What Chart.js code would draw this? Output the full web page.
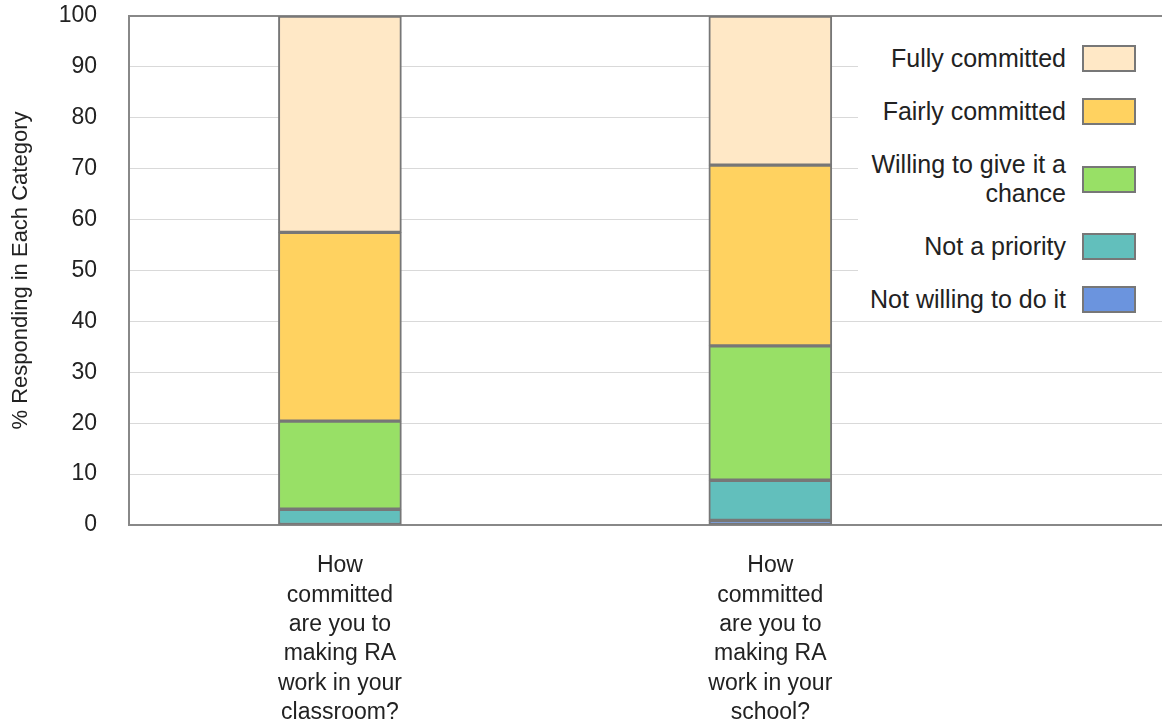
<!DOCTYPE html>
<html>
<head>
<meta charset="utf-8">
<script src="https://cdn.jsdelivr.net/npm/chart.js@4"></script>
<style>
  body { margin: 0; background: #fff; }
  #wrap { position: relative; width: 1162px; height: 727px; }
  #legend {
    position: absolute; left: 858px; top: 20px; width: 304px; height: 298px;
    background: #fff; font-family: "Liberation Sans", Arial, sans-serif;
    font-size: 25px; color: #222; padding-top: 24px; box-sizing: border-box;
  }
  .row { display: flex; justify-content: flex-end; align-items: center; margin-bottom: 24px; }
  .row span { text-align: right; line-height: 29px; }
  .row i { width: 50px; height: 23px; border: 2px solid #777; margin: 0 26px 0 16px; flex: none; }
</style>
</head>
<body>
<div id="wrap">
  <canvas id="rating_chart"></canvas>
  <div id="legend"></div>
</div>
<script>
// Data

const categories = [
    ['How', 'committed', 'are you to', 'making RA', 'work in your', 'classroom?'],
    ['How', 'committed', 'are you to', 'making RA', 'work in your', 'school?']
];
const series_names = ['Not willing to do it', 'Not a priority', 'Willing to give it a\nchance', 'Fairly committed', 'Fully committed'];
const not_willing = [0, 0.9];
const not_priority = [3.1, 7.9];
const willing = [17.3, 26.4];
const fairly = [37.1, 35.5];
const fully = [42.5, 29.3];
const y_ticks = [0, 10, 20, 30, 40, 50, 60, 70, 80, 90, 100];

const colors = ['#6b94de', '#62bfbc', '#98e066', '#ffd260', '#ffe8c6'];
const values = [not_willing, not_priority, willing, fairly, fully];

Chart.defaults.font.family = '"Liberation Sans", Arial, sans-serif';
Chart.defaults.color = '#222';

const datasets = values.map((vals, i) => ({
    label: series_names[i],
    data: vals.map((v, k) => ({ x: k, y: v })),
    backgroundColor: colors[i],
    borderColor: '#777',
    borderWidth: 2,
    borderSkipped: false,
    barThickness: 123
}));

const chart = new Chart(document.getElementById('rating_chart'), {
    type: 'bar',
    data: { datasets: datasets },
    options: {
        responsive: true,
        maintainAspectRatio: false,
        animation: false,
        layout: { padding: 0 },
        plugins: { legend: { display: false }, tooltip: { enabled: false } },
        scales: {
            x: {
                type: 'linear',
                stacked: true,
                offset: false,
                min: -0.49,
                max: 1.91,
                afterBuildTicks: (scale) => { scale.ticks = categories.map((c, k) => ({ value: k })); },
                afterFit: (scale) => { scale.height = 202; },
                ticks: {
                    autoSkip: false,
                    maxRotation: 0,
                    padding: 18,
                    font: { size: 23, lineHeight: 1.28 },
                    callback: (value) => categories[value]
                },
                grid: { display: false, offset: false },
                border: { display: true, color: '#888', width: 2 }
            },
            y: {
                stacked: true,
                min: 0,
                max: 100,
                afterBuildTicks: (scale) => { scale.ticks = y_ticks.map(v => ({ value: v })); },
                afterFit: (scale) => {
                    scale.width = 129;
                    scale.paddingTop = 16;
                    scale.paddingBottom = 0;
                },
                ticks: { padding: 32, font: { size: 23 } },
                grid: {
                    drawTicks: false,
                    color: (ctx) => ctx.tick && ctx.tick.value === 100 ? '#888' : '#d9d9d9',
                    lineWidth: (ctx) => ctx.tick && ctx.tick.value === 100 ? 2 : 1
                },
                border: { display: true, color: '#888', width: 2 },
                title: {
                    display: true,
                    text: '% Responding in Each Category',
                    font: { size: 22 },
                    padding: { top: 8, bottom: 0 }
                }
            }
        }
    }
});

// Legend, top item first
const legend = document.getElementById('legend');
for (let i = series_names.length - 1; i >= 0; i--) {
    const row = document.createElement('div');
    row.className = 'row';
    const span = document.createElement('span');
    span.innerHTML = series_names[i].replace('\n', '<br>');
    const box = document.createElement('i');
    box.style.background = colors[i];
    row.appendChild(span);
    row.appendChild(box);
    legend.appendChild(row);
}
</script>
</body>
</html>
